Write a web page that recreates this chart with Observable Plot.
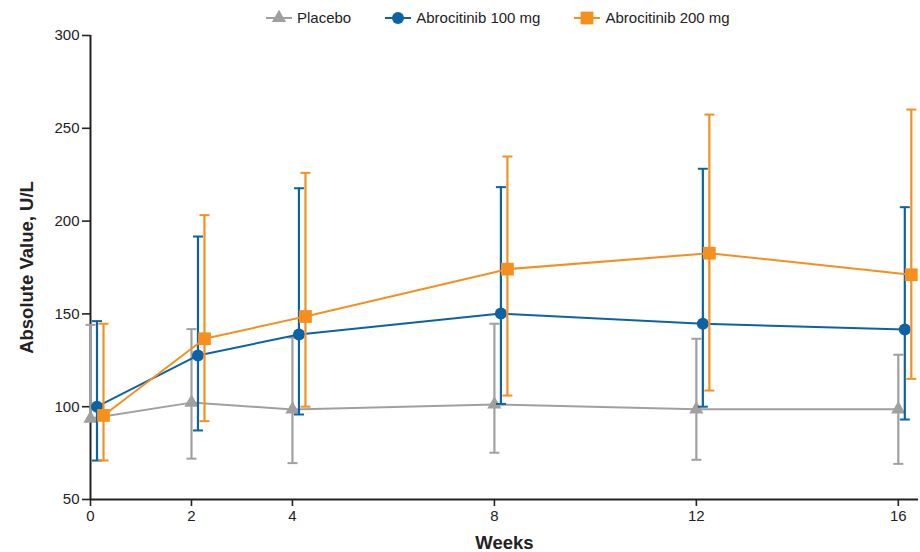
<!DOCTYPE html>
<html>
<head>
<meta charset="utf-8">
<script src="https://cdn.jsdelivr.net/npm/d3@7"></script>
<script src="https://cdn.jsdelivr.net/npm/@observablehq/plot@0.6"></script>
<style>
  body { margin: 0; background: #fff; font-family: "Liberation Sans", Arial, sans-serif; }
  #legend { height: 26px; display: flex; align-items: flex-end; padding-left: 266px; box-sizing: border-box; font-size: 15px; color: #222; line-height: 16px; }
  .item { display: flex; align-items: center; margin-right: 34px; padding-bottom: 0px; }
  .item svg { margin-right: 5px; }
  #chart svg { display: block; }
</style>
</head>
<body>
<div id="legend"></div>
<div id="chart"></div>
<script>
const weeks = [0, 2, 4, 8, 12, 16];
const groups = ["Placebo", "Abrocitinib 100 mg", "Abrocitinib 200 mg"];
const colors = ["#a0a0a0", "#0b63a6", "#f5901f"];
const symbols = ["triangle", "circle", "square"];

const placeboMean  = [93.6, 102.2, 98.5, 101.2, 98.6, 98.6];
const placeboUpper = [144.1, 141.8, 137.3, 144.7, 136.6, 128.0];
const placeboLower = [null, 72.0, 69.6, 75.2, 71.4, 69.2];

const abro100Mean  = [100.0, 127.6, 138.9, 150.2, 144.7, 141.6];
const abro100Upper = [146.1, 191.7, 217.7, 218.3, 228.2, 207.5];
const abro100Lower = [71.0, 87.2, 95.8, 101.5, 100.0, 93.1];

const abro200Mean  = [95.3, 136.6, 148.6, 174.1, 182.7, 171.1];
const abro200Upper = [144.7, 203.2, 226.0, 234.8, 257.4, 260.1];
const abro200Lower = [71.0, 92.2, 100.0, 106.0, 108.7, 115.0];

const yTicks = [50, 100, 150, 200, 250, 300];

const series = [
  {mean: placeboMean, hi: placeboUpper, lo: placeboLower},
  {mean: abro100Mean, hi: abro100Upper, lo: abro100Lower},
  {mean: abro200Mean, hi: abro200Upper, lo: abro200Lower}
];
const offsets = [0, 6.5, 13];
const sizes = [5.3, 6, 7.2];

const cap = {draw(ctx) { ctx.moveTo(-5, 0); ctx.lineTo(5, 0); }};

const marks = [
  Plot.ruleY([50], {stroke: "#222", strokeWidth: 2}),
  Plot.ruleX([0], {y1: 50, y2: 300, stroke: "#222", strokeWidth: 2}),
  Plot.axisY({ticks: yTicks, tickSize: 8, tickPadding: 3, label: null, fontSize: 15, stroke: "#222", strokeWidth: 1.6, color: "#222"}),
  Plot.axisX({ticks: weeks, tickSize: 7, tickPadding: 4, label: null, fontSize: 15, stroke: "#222", strokeWidth: 1.6, color: "#222"}),
  Plot.text(["Weeks"], {frameAnchor: "bottom", dy: 44, lineAnchor: "middle", fontSize: 18.5, fontWeight: "bold", fill: "#222"}),
  Plot.text(["Absolute Value, U/L"], {frameAnchor: "left", textAnchor: "middle", dx: -63, rotate: -90, fontSize: 18.5, fontWeight: "bold", fill: "#222"})
];

groups.forEach((g, i) => {
  const s = series[i];
  const rows = weeks.map((w, j) => ({week: w, mean: s.mean[j], hi: s.hi[j], lo: s.lo[j]}));
  const c = colors[i];
  const dx = offsets[i];
  marks.push(
    Plot.ruleX(rows, {x: "week", y1: d => d.lo ?? d.mean, y2: "hi", stroke: c, strokeWidth: 2.2, dx}),
    Plot.dot(rows, {x: "week", y: "hi", symbol: cap, stroke: c, strokeWidth: 2, dx, r: 3}),
    Plot.dot(rows.filter(d => d.lo != null), {x: "week", y: "lo", symbol: cap, stroke: c, strokeWidth: 2, dx, r: 3}),
    Plot.line(rows, {x: "week", y: "mean", stroke: c, strokeWidth: 2, dx}),
    Plot.dot(rows, {x: "week", y: "mean", symbol: symbols[i], fill: c, r: sizes[i], dx})
  );
});

const chart = Plot.plot({
  width: 920,
  height: 526,
  marginTop: 9,
  marginBottom: 53,
  marginLeft: 90,
  marginRight: 2,
  style: {fontFamily: "'Liberation Sans', Arial, sans-serif", background: "#fff"},
  x: {domain: [0, 16.4]},
  y: {domain: [50, 300]},
  marks
});
document.getElementById("chart").appendChild(chart);

// legend
const legend = document.getElementById("legend");
groups.forEach((g, i) => {
  const item = document.createElement("div");
  item.className = "item";
  const sw = d3.create("svg").attr("width", 26).attr("height", 16);
  sw.append("line").attr("x1", 0).attr("x2", 26).attr("y1", 8).attr("y2", 8).attr("stroke", colors[i]).attr("stroke-width", 2);
  const symType = i === 0 ? d3.symbolTriangle : i === 1 ? d3.symbolCircle : d3.symbolSquare;
  const area = Math.PI * sizes[i] * sizes[i];
  sw.append("path").attr("transform", "translate(13,8)").attr("d", d3.symbol(symType, area)()).attr("fill", colors[i]);
  item.appendChild(sw.node());
  const t = document.createElement("span");
  t.textContent = g;
  item.appendChild(t);
  legend.appendChild(item);
});
</script>
</body>
</html>
